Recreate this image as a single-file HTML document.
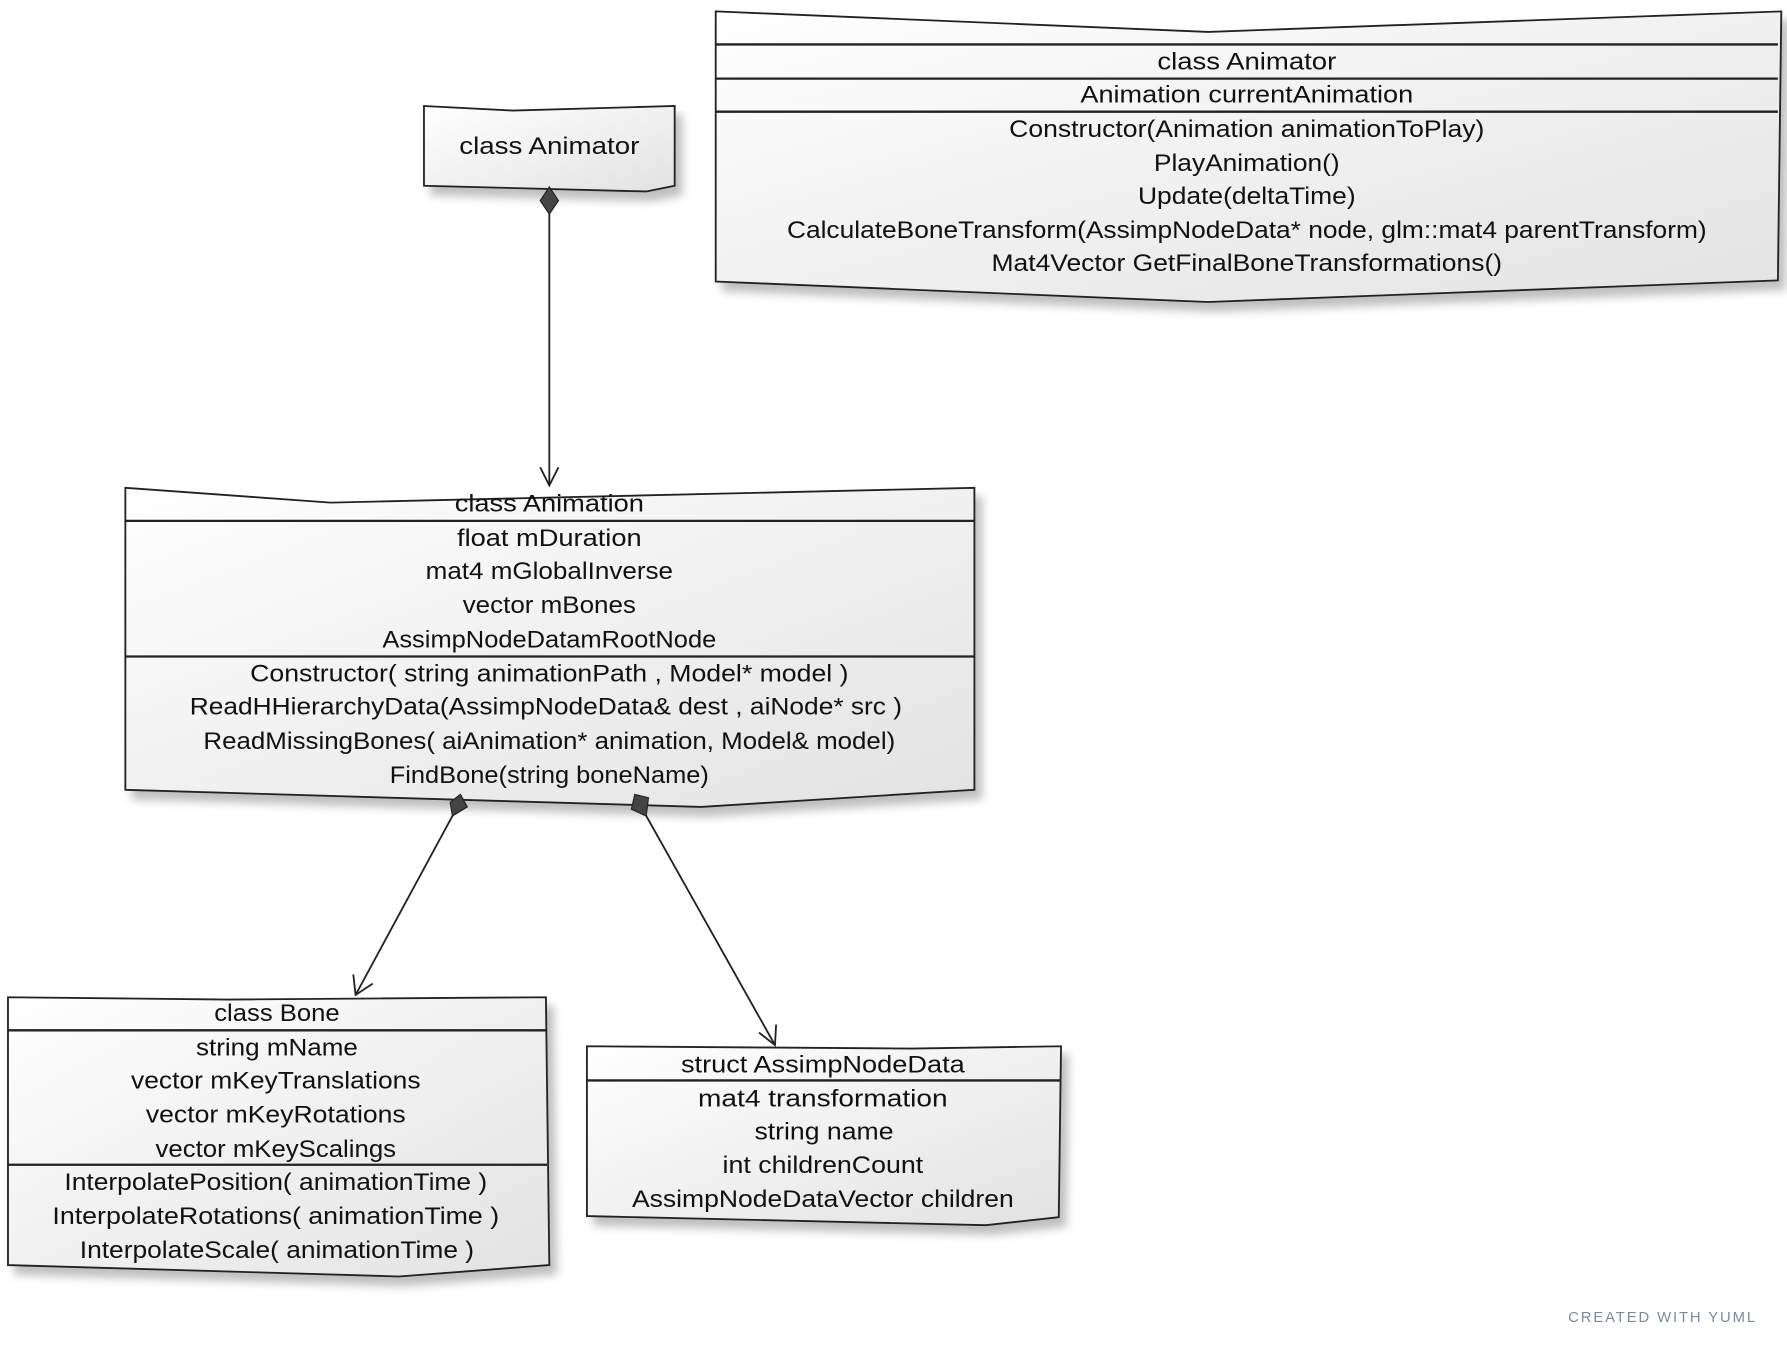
<!DOCTYPE html>
<html><head><meta charset="utf-8"><style>
html,body{margin:0;padding:0;background:#fff;}
svg{display:block;}
text{font-family:"Liberation Sans",sans-serif;font-size:21px;fill:#111;text-anchor:middle;}
</style></head><body>
<svg width="1787" height="1346" viewBox="0 0 1568 1181" preserveAspectRatio="none" xmlns="http://www.w3.org/2000/svg">
<defs>
<linearGradient id="g" x1="0" y1="0" x2="1" y2="1"><stop offset="0" stop-color="#ffffff"/><stop offset="1" stop-color="#e2e2e2"/></linearGradient>
<filter id="sh" x="-5%" y="-5%" width="115%" height="125%"><feGaussianBlur in="SourceAlpha" stdDeviation="4"/><feOffset dx="6" dy="8"/><feComponentTransfer><feFuncA type="linear" slope="0.25"/></feComponentTransfer><feMerge><feMergeNode/><feMergeNode in="SourceGraphic"/></feMerge></filter>
</defs>
<g stroke="#222" stroke-width="1.6" fill="url(#g)">
<polygon filter="url(#sh)" points="372,93 450,97 592,93 592,163 567,168 372,163"/>
<polygon filter="url(#sh)" points="628,10 1060,28 1563,10 1560,246 1060,265 628,247"/>
<polygon filter="url(#sh)" points="110,428 290,441 855,428 855,693 615,708 110,693"/>
<polygon filter="url(#sh)" points="7,875 200,877 479,875 482,1110 350,1120 7,1110"/>
<polygon filter="url(#sh)" points="515,918 800,920 931,918 929,1068 865,1075 515,1067"/>
</g>
<g stroke="#222" stroke-width="2">
<line x1="628" y1="39" x2="1560" y2="39"/><line x1="628" y1="69" x2="1560" y2="69"/><line x1="628" y1="98" x2="1560" y2="98"/>
<line x1="110" y1="457" x2="855" y2="457"/><line x1="110" y1="576" x2="855" y2="576"/>
<line x1="7" y1="904" x2="480" y2="904"/><line x1="7" y1="1022" x2="480" y2="1022"/>
<line x1="515" y1="948" x2="931" y2="948"/>
</g>
<g stroke="#222" stroke-width="1.6" fill="none">
<line x1="482" y1="186" x2="482" y2="426"/>
<polyline points="474,410 482,426 490,410"/>
<line x1="398" y1="714" x2="312" y2="873"/>
<polyline points="310,855 312,873 327,863"/>
<line x1="566" y1="714" x2="680" y2="917"/>
<polyline points="666,906 680,917 681,899"/>
</g>
<g fill="#444" stroke="#222" stroke-width="1">
<polygon points="482,164 490,176 482,188 474,176"/>
<polygon points="404,697 410,708 397,716 395,704"/>
<polygon points="557,697 569,700 567,716 554,710"/>
</g>
<g lengthAdjust="spacingAndGlyphs">
<text lengthAdjust="spacingAndGlyphs" x="482" y="135" textLength="158">class Animator</text>
<text lengthAdjust="spacingAndGlyphs" x="1094" y="61" textLength="157">class Animator</text>
<text lengthAdjust="spacingAndGlyphs" x="1094" y="90" textLength="292">Animation currentAnimation</text>
<text lengthAdjust="spacingAndGlyphs" x="1094" y="120" textLength="417">Constructor(Animation animationToPlay)</text>
<text lengthAdjust="spacingAndGlyphs" x="1094" y="150" textLength="163">PlayAnimation()</text>
<text lengthAdjust="spacingAndGlyphs" x="1094" y="179" textLength="191">Update(deltaTime)</text>
<text lengthAdjust="spacingAndGlyphs" x="1094" y="209" textLength="807">CalculateBoneTransform(AssimpNodeData* node, glm::mat4 parentTransform)</text>
<text lengthAdjust="spacingAndGlyphs" x="1094" y="238" textLength="448">Mat4Vector GetFinalBoneTransformations()</text>
<text lengthAdjust="spacingAndGlyphs" x="482" y="449" textLength="166">class Animation</text>
<text lengthAdjust="spacingAndGlyphs" x="482" y="479" textLength="162">float mDuration</text>
<text lengthAdjust="spacingAndGlyphs" x="482" y="508" textLength="217">mat4 mGlobalInverse</text>
<text lengthAdjust="spacingAndGlyphs" x="482" y="538" textLength="152">vector mBones</text>
<text lengthAdjust="spacingAndGlyphs" x="482" y="568" textLength="293">AssimpNodeDatamRootNode</text>
<text lengthAdjust="spacingAndGlyphs" x="482" y="598" textLength="525">Constructor( string animationPath , Model* model )</text>
<text lengthAdjust="spacingAndGlyphs" x="479" y="627" textLength="625">ReadHHierarchyData(AssimpNodeData&amp; dest , aiNode* src )</text>
<text lengthAdjust="spacingAndGlyphs" x="482" y="657" textLength="607">ReadMissingBones( aiAnimation* animation, Model&amp; model)</text>
<text lengthAdjust="spacingAndGlyphs" x="482" y="687" textLength="280">FindBone(string boneName)</text>
<text lengthAdjust="spacingAndGlyphs" x="243" y="896" textLength="110">class Bone</text>
<text lengthAdjust="spacingAndGlyphs" x="243" y="926" textLength="142">string mName</text>
<text lengthAdjust="spacingAndGlyphs" x="242" y="955" textLength="254">vector mKeyTranslations</text>
<text lengthAdjust="spacingAndGlyphs" x="242" y="985" textLength="228">vector mKeyRotations</text>
<text lengthAdjust="spacingAndGlyphs" x="242" y="1015" textLength="211">vector mKeyScalings</text>
<text lengthAdjust="spacingAndGlyphs" x="242" y="1044" textLength="371">InterpolatePosition( animationTime )</text>
<text lengthAdjust="spacingAndGlyphs" x="242" y="1074" textLength="392">InterpolateRotations( animationTime )</text>
<text lengthAdjust="spacingAndGlyphs" x="243" y="1104" textLength="346">InterpolateScale( animationTime )</text>
<text lengthAdjust="spacingAndGlyphs" x="722" y="941" textLength="249">struct AssimpNodeData</text>
<text lengthAdjust="spacingAndGlyphs" x="722" y="971" textLength="219">mat4 transformation</text>
<text lengthAdjust="spacingAndGlyphs" x="723" y="1000" textLength="122">string name</text>
<text lengthAdjust="spacingAndGlyphs" x="722" y="1029" textLength="176">int childrenCount</text>
<text lengthAdjust="spacingAndGlyphs" x="722" y="1059" textLength="335">AssimpNodeDataVector children</text>
</g>
<text x="1458" y="1160" textLength="164" style="font-size:13px;fill:#7a8aa0;">CREATED WITH YUML</text>
</svg>
</body></html>
